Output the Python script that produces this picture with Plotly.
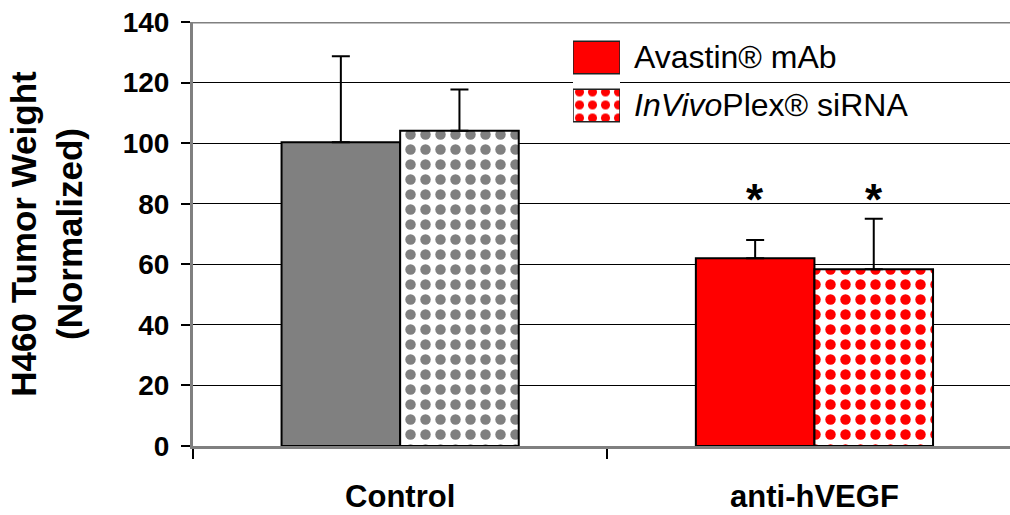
import plotly.graph_objects as go

# data
groups = ["Control", "anti-hVEGF"]
mab_weight = [100.3, 62.0]
mab_err = [28.4, 6.0]
sirna_weight = [104.1, 58.4]
sirna_err = [13.6, 16.6]
group_colors = ["#808080", "#ff0000"]
series_names = ["Avastin® mAb", "<i>InVivo</i>Plex® siRNA"]
legend_colors = ["#ff0000", "#ff0000"]
y_ticks = [0, 20, 40, 60, 80, 100, 120, 140]
star_groups = ["anti-hVEGF"]
star_level = 81.5

W, H = 1010, 515
L, R, T, B = 193, 0, 22, 69
PW, PH = W - L - R, H - T - B
BARGAP = 0.4275
FONT = "Liberation Sans, Arial, sans-serif"


def px_x(x):
    return (x - L) / PW


def px_y(y):
    return (H - B - y) / PH


fig = go.Figure()

fig.add_trace(go.Bar(
    x=groups, y=mab_weight, name=series_names[0],
    marker=dict(color=group_colors, line=dict(color="black", width=2)),
    error_y=dict(type="data", array=mab_err, arrayminus=[0] * len(groups),
                 symmetric=False, color="black", thickness=2, width=9),
    showlegend=False))

fig.add_trace(go.Bar(
    x=groups, y=sirna_weight, name=series_names[1],
    marker=dict(color="white", line=dict(color="black", width=2),
                pattern=dict(shape=".", fgcolor=group_colors, bgcolor="white",
                             size=15, solidity=0.38, fillmode="replace")),
    error_y=dict(type="data", array=sirna_err, arrayminus=[0] * len(groups),
                 symmetric=False, color="black", thickness=2, width=9),
    showlegend=False))

# legend swatches drawn on a small inset axis so they can be large and patterned
fig.add_trace(go.Bar(
    x=[1, 1], y=[1, 0], orientation="h", width=0.68,
    xaxis="x2", yaxis="y2", showlegend=False, hoverinfo="skip",
    marker=dict(color=legend_colors, line=dict(color="#222222", width=1.5),
                pattern=dict(shape=["", "."], fgcolor=legend_colors,
                             bgcolor=[legend_colors[0], "white"],
                             size=13, solidity=0.38, fillmode="replace"))))

for i, name in enumerate(series_names):
    fig.add_annotation(
        xref="paper", yref="paper", x=px_x(632), y=px_y(57 + 48 * i),
        xanchor="left", yanchor="middle", text=name, showarrow=False,
        font=dict(family=FONT, size=32, color="black"))

# significance stars over the treated bars
offset = (1 - BARGAP) / 4
for g in star_groups:
    gi = groups.index(g)
    for d in (-offset, offset):
        fig.add_annotation(
            x=gi + d, y=star_level, xref="x", yref="y", text="<b>*</b>",
            showarrow=False, yanchor="middle",
            font=dict(family=FONT, size=44, color="black"))

# grey top border of the plot area
fig.add_shape(type="line", xref="paper", yref="y", x0=0, x1=1,
              y0=y_ticks[-1], y1=y_ticks[-1], line=dict(color="#808080", width=3))

fig.update_layout(
    width=W, height=H,
    margin=dict(l=L, r=R, t=T, b=B, pad=0, autoexpand=False),
    paper_bgcolor="white", plot_bgcolor="white",
    barmode="group", bargap=BARGAP, bargroupgap=0,
    font=dict(family=FONT, color="black"),
    xaxis=dict(
        type="category", range=[-0.5, 1.472], automargin=False,
        showline=True, linecolor="#808080", linewidth=3,
        ticks="outside", tickson="boundaries", ticklen=10,
        tickcolor="black", tickwidth=1.5, ticklabelstandoff=21,
        tickfont=dict(family=FONT, size=31, color="black", weight="bold"),
        showgrid=False, zeroline=False),
    yaxis=dict(
        range=[y_ticks[0], y_ticks[-1]], tickvals=y_ticks, automargin=False,
        showline=True, linecolor="#808080", linewidth=3,
        ticks="outside", ticklen=9, tickcolor="black", tickwidth=1.5,
        ticklabelstandoff=6,
        tickfont=dict(family=FONT, size=28, color="black", weight="bold"),
        showgrid=True, gridcolor="black", gridwidth=1, zeroline=False,
        title=dict(text="H460 Tumor Weight<br>(Normalized)", standoff=30,
                   font=dict(family=FONT, size=35, color="black", weight="bold"))),
    xaxis2=dict(domain=[px_x(573), px_x(620)], anchor="y2", range=[0, 1],
                visible=False, fixedrange=True),
    yaxis2=dict(domain=[px_y(129.5), px_y(33.5)], anchor="x2", range=[-0.5, 1.5],
                visible=False, fixedrange=True),
)

# drop the default page margin so the figure sits at the window's corner
fig.write_html("out.html", config={"displayModeBar": False},
               post_script="document.body.style.margin='0';")
